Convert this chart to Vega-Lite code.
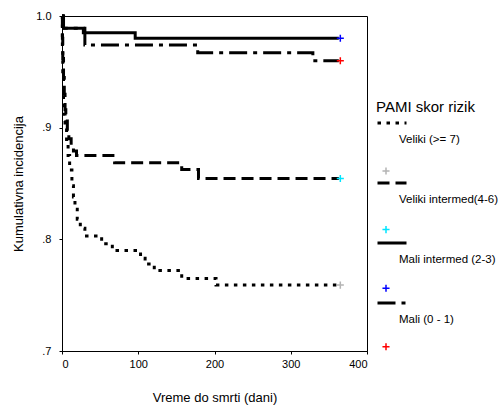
{
  "$schema": "https://vega.github.io/schema/vega-lite/v6.json",
  "width": 305,
  "height": 335,
  "autosize": {"type": "none"},
  "padding": {"left": 62, "top": 16, "right": 134, "bottom": 58},
  "background": "white",
  "config": {
    "font": "Liberation Sans",
    "view": {"stroke": "black", "strokeWidth": 1},
    "axis": {"grid": false, "domainColor": "black", "tickColor": "black", "labelColor": "black", "titleColor": "black", "labelFontSize": 11, "titleFontSize": 13, "titleFontWeight": "normal", "tickSize": 3}
  },
  "datasets": {
    "krive": [
      {"grupa": "Veliki (>= 7)", "dan": 0, "p": 1.0},
      {"grupa": "Veliki (>= 7)", "dan": 0.5, "p": 0.97},
      {"grupa": "Veliki (>= 7)", "dan": 1, "p": 0.95},
      {"grupa": "Veliki (>= 7)", "dan": 2, "p": 0.925},
      {"grupa": "Veliki (>= 7)", "dan": 3, "p": 0.912},
      {"grupa": "Veliki (>= 7)", "dan": 4, "p": 0.9},
      {"grupa": "Veliki (>= 7)", "dan": 6, "p": 0.888},
      {"grupa": "Veliki (>= 7)", "dan": 8, "p": 0.875},
      {"grupa": "Veliki (>= 7)", "dan": 10, "p": 0.862},
      {"grupa": "Veliki (>= 7)", "dan": 13, "p": 0.848},
      {"grupa": "Veliki (>= 7)", "dan": 15, "p": 0.838},
      {"grupa": "Veliki (>= 7)", "dan": 17, "p": 0.827},
      {"grupa": "Veliki (>= 7)", "dan": 20, "p": 0.818},
      {"grupa": "Veliki (>= 7)", "dan": 24, "p": 0.81},
      {"grupa": "Veliki (>= 7)", "dan": 30, "p": 0.803},
      {"grupa": "Veliki (>= 7)", "dan": 52, "p": 0.796},
      {"grupa": "Veliki (>= 7)", "dan": 66, "p": 0.79},
      {"grupa": "Veliki (>= 7)", "dan": 103, "p": 0.783},
      {"grupa": "Veliki (>= 7)", "dan": 109, "p": 0.778},
      {"grupa": "Veliki (>= 7)", "dan": 121, "p": 0.772},
      {"grupa": "Veliki (>= 7)", "dan": 157, "p": 0.765},
      {"grupa": "Veliki (>= 7)", "dan": 202, "p": 0.759},
      {"grupa": "Veliki (>= 7)", "dan": 363, "p": 0.759},
      {"grupa": "Veliki intermed(4-6)", "dan": 0, "p": 1.0},
      {"grupa": "Veliki intermed(4-6)", "dan": 0.5, "p": 0.98},
      {"grupa": "Veliki intermed(4-6)", "dan": 1, "p": 0.962},
      {"grupa": "Veliki intermed(4-6)", "dan": 2, "p": 0.945},
      {"grupa": "Veliki intermed(4-6)", "dan": 3, "p": 0.93},
      {"grupa": "Veliki intermed(4-6)", "dan": 4, "p": 0.916},
      {"grupa": "Veliki intermed(4-6)", "dan": 5, "p": 0.906},
      {"grupa": "Veliki intermed(4-6)", "dan": 7, "p": 0.897},
      {"grupa": "Veliki intermed(4-6)", "dan": 9, "p": 0.89},
      {"grupa": "Veliki intermed(4-6)", "dan": 12, "p": 0.884},
      {"grupa": "Veliki intermed(4-6)", "dan": 15, "p": 0.879},
      {"grupa": "Veliki intermed(4-6)", "dan": 19, "p": 0.875},
      {"grupa": "Veliki intermed(4-6)", "dan": 69, "p": 0.8685},
      {"grupa": "Veliki intermed(4-6)", "dan": 157, "p": 0.8625},
      {"grupa": "Veliki intermed(4-6)", "dan": 179, "p": 0.8545},
      {"grupa": "Veliki intermed(4-6)", "dan": 363, "p": 0.8545},
      {"grupa": "Mali intermed (2-3)", "dan": 0, "p": 1.0},
      {"grupa": "Mali intermed (2-3)", "dan": 2, "p": 0.989},
      {"grupa": "Mali intermed (2-3)", "dan": 28, "p": 0.985},
      {"grupa": "Mali intermed (2-3)", "dan": 96, "p": 0.98},
      {"grupa": "Mali intermed (2-3)", "dan": 363, "p": 0.98},
      {"grupa": "Mali (0 - 1)", "dan": 0, "p": 1.0},
      {"grupa": "Mali (0 - 1)", "dan": 2, "p": 0.989},
      {"grupa": "Mali (0 - 1)", "dan": 30, "p": 0.974},
      {"grupa": "Mali (0 - 1)", "dan": 178, "p": 0.967},
      {"grupa": "Mali (0 - 1)", "dan": 329, "p": 0.96},
      {"grupa": "Mali (0 - 1)", "dan": 363, "p": 0.96}
    ],
    "cenzura": [
      {"kriva": "Veliki (>= 7)", "dan": 365, "p": 0.759},
      {"kriva": "Veliki intermed(4-6)", "dan": 365, "p": 0.8545},
      {"kriva": "Mali intermed (2-3)", "dan": 365, "p": 0.98},
      {"kriva": "Mali (0 - 1)", "dan": 365, "p": 0.96}
    ]
  },
  "layer": [
    {
      "data": {"name": "krive"},
      "mark": {"type": "line", "interpolate": "step-after", "color": "black", "strokeWidth": 3},
      "encoding": {
        "x": {"field": "dan", "type": "quantitative", "scale": {"domain": [0, 400], "nice": false}, "axis": {"title": "Vreme do smrti (dani)", "values": [0, 100, 200, 300, 400], "labelPadding": 4, "titlePadding": 22}},
        "y": {"field": "p", "type": "quantitative", "scale": {"domain": [0.7, 1.0], "nice": false, "zero": false}, "axis": {"title": "Kumulativna incidencija", "values": [0.7, 0.8, 0.9, 1.0], "labelExpr": "datum.value == 1 ? '1.0' : replace(format(datum.value, '.1f'), '0.', '.')", "labelPadding": 8, "titlePadding": 10}},
        "strokeDash": {
          "field": "grupa", "type": "nominal",
          "scale": {"domain": ["Veliki (>= 7)", "Veliki intermed(4-6)", "Mali intermed (2-3)", "Mali (0 - 1)"], "range": [[3.5, 5.5], [12, 6], [1, 0], [18, 6, 4, 6]]},
          "legend": {"title": "PAMI skor rizik", "orient": "none", "legendX": 314, "legendY": 84, "padding": 0, "symbolType": "stroke", "symbolStrokeWidth": 3, "symbolSize": 841, "symbolStrokeColor": "black", "labelFontSize": 11.5, "labelOffset": -9, "labelBaseline": "top", "rowPadding": 21, "titleFontSize": 15, "titleFontWeight": "normal", "titlePadding": -8,
            "encode": {"labels": {"update": {"dy": {"value": 11}}}}}
        }
      }
    },
    {
      "data": {"name": "cenzura"},
      "mark": {"type": "point", "shape": "M-1,0H1M0,-1V1", "filled": false, "strokeWidth": 1.5, "size": 50, "opacity": 1},
      "encoding": {
        "x": {"field": "dan", "type": "quantitative"},
        "y": {"field": "p", "type": "quantitative"},
        "color": {
          "field": "kriva", "type": "nominal",
          "sort": ["Veliki (>= 7)", "Veliki intermed(4-6)", "Mali intermed (2-3)", "Mali (0 - 1)"],
          "scale": {"range": ["#b4b4b4", "#00e5ff", "#0000ff", "#ff0000"]},
          "legend": {"title": null, "orient": "none", "legendX": 319, "legendY": 150, "padding": 0, "labelExpr": "''", "symbolType": "M-1,0H1M0,-1V1", "symbolSize": 50, "symbolStrokeWidth": 1.5, "rowPadding": 44.6}
        }
      }
    }
  ]
}
